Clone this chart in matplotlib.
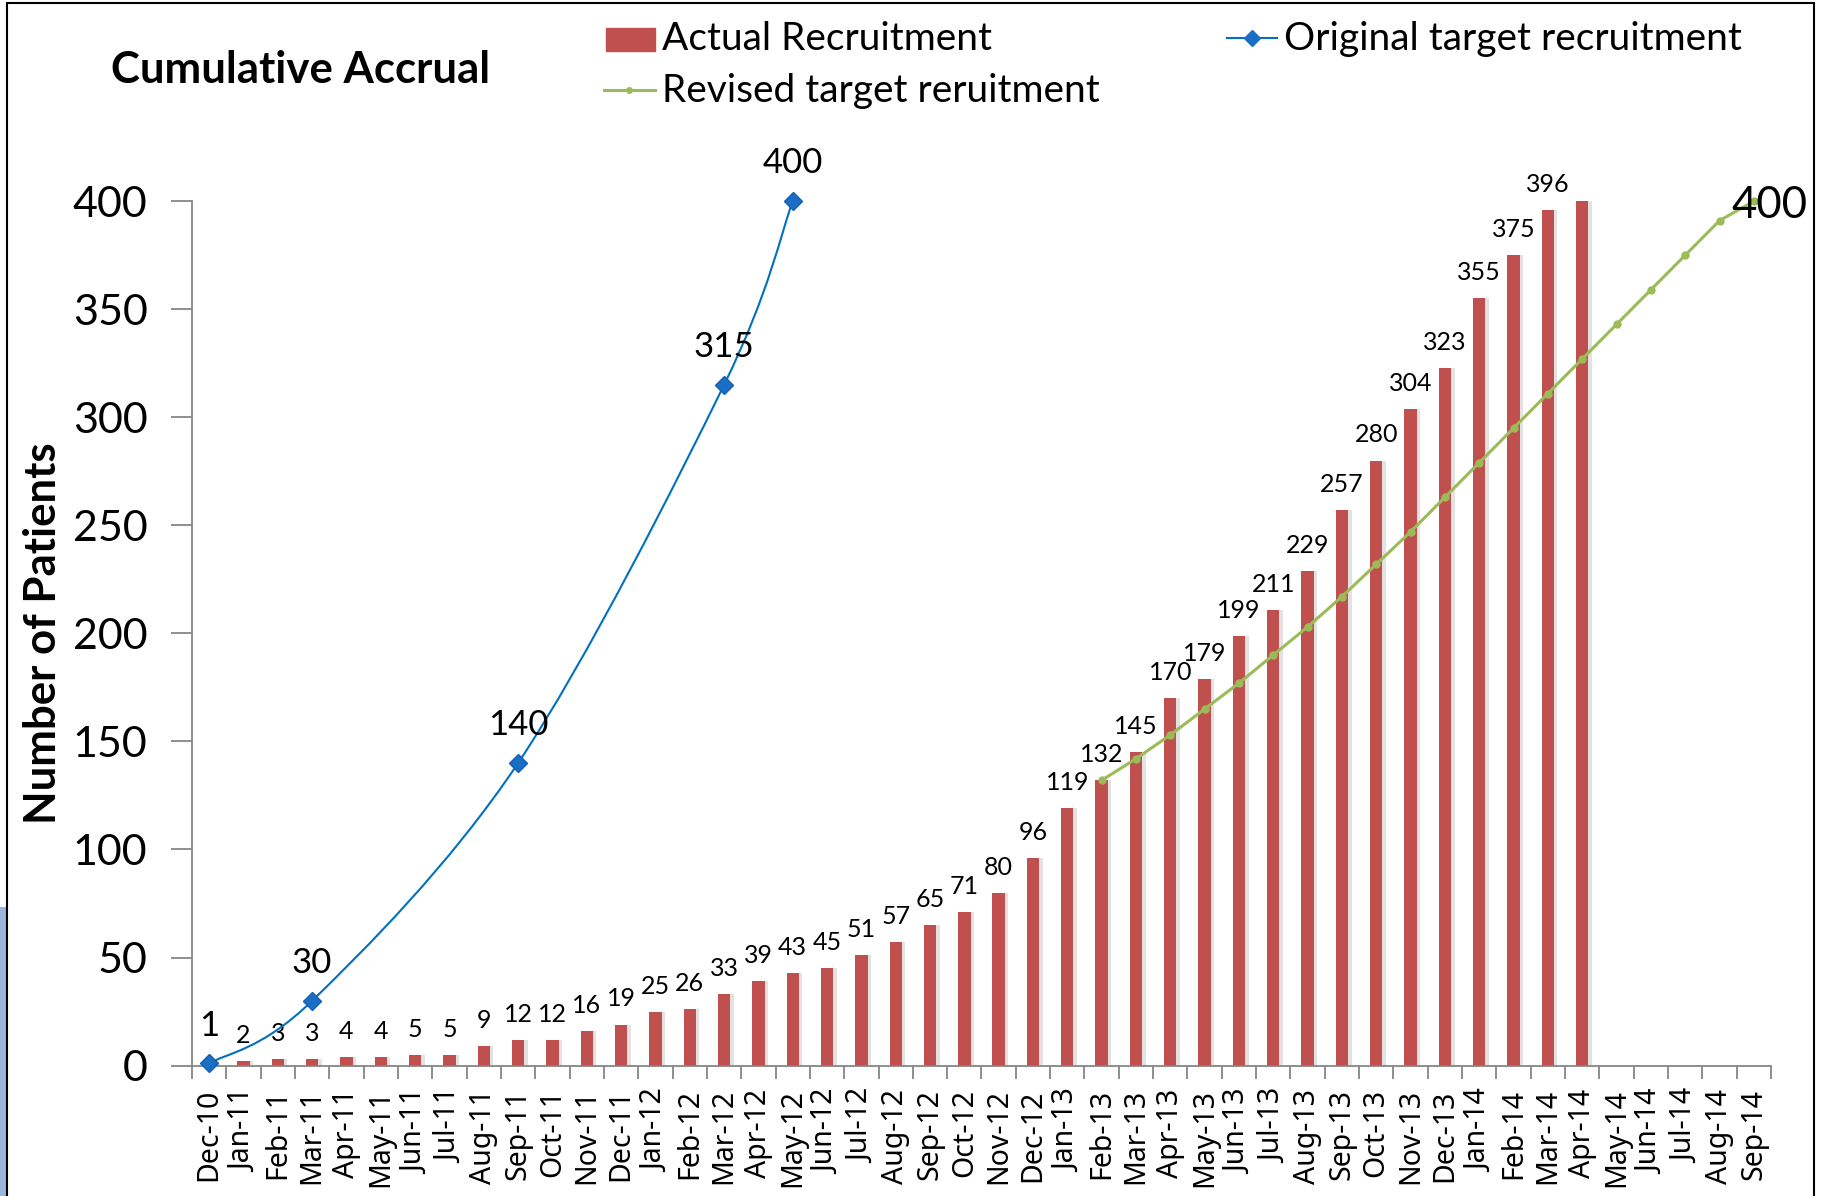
import matplotlib
matplotlib.use("Agg")
import matplotlib.pyplot as plt
from matplotlib.path import Path
from matplotlib.patches import PathPatch, Rectangle
from matplotlib.lines import Line2D

months = ["Dec-10",
          "Jan-11", "Feb-11", "Mar-11", "Apr-11", "May-11", "Jun-11",
          "Jul-11", "Aug-11", "Sep-11", "Oct-11", "Nov-11", "Dec-11",
          "Jan-12", "Feb-12", "Mar-12", "Apr-12", "May-12", "Jun-12",
          "Jul-12", "Aug-12", "Sep-12", "Oct-12", "Nov-12", "Dec-12",
          "Jan-13", "Feb-13", "Mar-13", "Apr-13", "May-13", "Jun-13",
          "Jul-13", "Aug-13", "Sep-13", "Oct-13", "Nov-13", "Dec-13",
          "Jan-14", "Feb-14", "Mar-14", "Apr-14", "May-14", "Jun-14",
          "Jul-14", "Aug-14", "Sep-14"]

# cumulative actual recruitment, Dec-10 .. Apr-14
actual = [1, 2, 3, 3, 4, 4, 5, 5, 9, 12, 12, 16, 19,
          25, 26, 33, 39, 43, 45, 51, 57, 65, 71, 80, 96,
          119, 132, 145, 170, 179, 199, 211, 229, 257, 280, 304, 323,
          355, 375, 396, 400]
# the last bar carries no data label in the original
actual_labelled = len(actual) - 1

original_months = ["Dec-10", "Mar-11", "Sep-11", "Mar-12", "May-12"]
original = [1, 30, 140, 315, 400]

revised_months = months[26:]   # Feb-13 .. Sep-14
revised = [132, 142, 153, 165, 177, 190, 203, 217, 232, 247,
           263, 279, 295, 311, 327, 343, 359, 375, 391, 400]

RED = "#C0504D"
BLUE = "#0070C0"
GREEN = "#9BBB59"
GREY = "#868686"

W, H = 1824, 1196
fig = plt.figure(figsize=(W / 100, H / 100), dpi=100)
ax = fig.add_axes([192 / W, 1 - 1065.6 / H, (1771 - 192) / W, (1065.6 - 201.2) / H])

x = list(range(len(months)))
xa = x[:len(actual)]

# bars with a faint shadow on the right
ax.bar([i + 0.1 for i in xa], actual, width=0.36, color="#e2e2e2", zorder=1)
ax.bar(xa, actual, width=0.36, color=RED, zorder=2)
for i in range(1, actual_labelled):
    ax.annotate(str(actual[i]), (xa[i], actual[i]), xytext=(0, 13),
                textcoords="offset points", ha="center", va="baseline",
                fontsize=18, family="Lato", zorder=5)


def smooth_path(xs, ys):
    # Bezier segments with Catmull-Rom style control points (like Excel "smoothed line")
    pts = list(zip(xs, ys))
    n = len(pts)
    verts = [pts[0]]
    codes = [Path.MOVETO]
    for i in range(n - 1):
        p0 = pts[i - 1] if i > 0 else pts[i]
        p1, p2 = pts[i], pts[i + 1]
        p3 = pts[i + 2] if i + 2 < n else pts[i + 1]
        c1 = (p1[0] + (p2[0] - p0[0]) / 6, p1[1] + (p2[1] - p0[1]) / 6)
        c2 = (p2[0] - (p3[0] - p1[0]) / 6, p2[1] - (p3[1] - p1[1]) / 6)
        verts += [c1, c2, p2]
        codes += [Path.CURVE4] * 3
    return Path(verts, codes)


xo = [months.index(m) for m in original_months]
ax.add_patch(PathPatch(smooth_path(xo, original), fill=False, edgecolor=BLUE,
                       lw=1.5, zorder=6, clip_on=False))
ax.plot(xo, original, ls="none", marker="D", ms=9, color="#1a6fc4",
        mec="#1660b0", zorder=7, clip_on=False)
for xi, v in zip(xo, original):
    ax.annotate(str(v), (xi, v), xytext=(0, 20), textcoords="offset points",
                ha="center", va="baseline", fontsize=25, family="Lato",
                zorder=8, annotation_clip=False)

xr = [months.index(m) for m in revised_months]
ax.plot(xr, revised, color=GREEN, lw=2.2, marker="o", ms=5, zorder=6,
        clip_on=False)
ax.annotate(str(revised[-1]), (xr[-1], revised[-1]), xytext=(-16, -12),
            textcoords="offset points", ha="left", va="baseline",
            fontsize=31.5, family="Lato", zorder=8, annotation_clip=False)

ax.set_xlim(-0.5, len(months) - 0.5)
ax.set_ylim(0, 400)
ax.set_yticks(range(0, 401, 50))
ax.set_yticklabels([str(v) for v in range(0, 401, 50)], family="Lato", fontsize=31)
ax.set_xticks(x)
ax.set_xticklabels(months, rotation=90, family="Noto Sans", fontsize=20.5)
ax.set_xticks([i - 0.5 for i in range(len(months) + 1)], minor=True)
ax.tick_params(axis="x", which="major", length=0, pad=17)
ax.tick_params(axis="x", which="minor", length=9, width=1.3, color=GREY, direction="out")
ax.tick_params(axis="y", length=15, width=1.3, color=GREY, pad=17)
for s in ["top", "right"]:
    ax.spines[s].set_visible(False)
for s in ["left", "bottom"]:
    ax.spines[s].set_color(GREY)
    ax.spines[s].set_linewidth(1.3)

# title, axis label and legend placed as on the slide
def fx(px):
    return px / W


def fy(py):
    return 1 - py / H


fig.text(fx(301), fy(70), "Cumulative Accrual", ha="center", va="center",
         fontsize=31.5, fontweight="bold", family="Lato")
fig.text(fx(43), fy(633), "Number of Patients", rotation=90, ha="center",
         va="center", fontsize=31.5, fontweight="bold", family="Lato")

fig.patches.append(Rectangle((fx(606), fy(51)), fx(655) - fx(606), fy(28) - fy(51),
                             transform=fig.transFigure, color=RED))
fig.text(fx(662), fy(39), "Actual Recruitment", ha="left", va="center",
         fontsize=28, family="Lato")
fig.lines.append(Line2D([fx(604), fx(655)], [fy(90), fy(90)], transform=fig.transFigure,
                        color=GREEN, lw=2.2))
fig.lines.append(Line2D([fx(629.5)], [fy(90)], transform=fig.transFigure,
                        color=GREEN, marker="o", ms=4))
fig.text(fx(662), fy(91), "Revised target reruitment", ha="left", va="center",
         fontsize=28, family="Lato")
fig.lines.append(Line2D([fx(1227), fx(1277)], [fy(38), fy(38)], transform=fig.transFigure,
                        color=BLUE, lw=1.5))
fig.lines.append(Line2D([fx(1252)], [fy(38)], transform=fig.transFigure,
                        color="#1a6fc4", marker="D", ms=8))
fig.text(fx(1284), fy(39), "Original target recruitment", ha="left", va="center",
         fontsize=28, family="Lato")

# slide frame and the bit of blue shape peeking in at the left
fig.patches.append(Rectangle((0, fy(1196)), fx(6), fy(907) - fy(1196),
                             transform=fig.transFigure, color="#9ab5e0", lw=0))
fig.patches.append(Rectangle((fx(7), -0.01), fx(1814) - fx(7), fy(3) + 0.01,
                             transform=fig.transFigure, fill=False,
                             edgecolor="black", lw=1.5))

fig.savefig("out.png", dpi=100)
